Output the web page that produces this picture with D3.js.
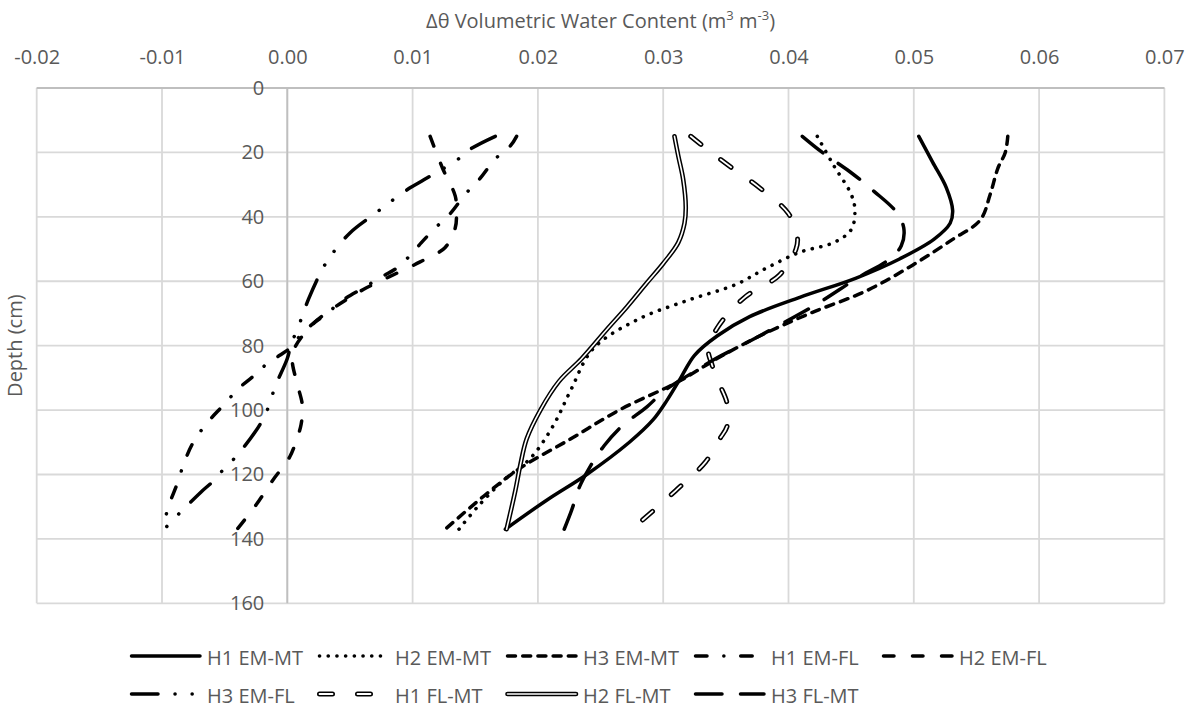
<!DOCTYPE html>
<html>
<head>
<meta charset="utf-8">
<script src="https://cdn.jsdelivr.net/npm/d3@7/dist/d3.min.js"></script>
<style>
  html, body { margin: 0; padding: 0; background: #fff; }
  svg { display: block; }
  text { font-family: "Open Sans", "Noto Sans", sans-serif; fill: #595959; }
</style>
</head>
<body>
<svg id="chart" width="1196" height="717"></svg>
<script>
// ---------------- data ----------------
const xTicks = [-0.02, -0.01, 0.00, 0.01, 0.02, 0.03, 0.04, 0.05, 0.06, 0.07];
const yTicks = [0, 20, 40, 60, 80, 100, 120, 140, 160];
const seriesNames = ["H1 EM-MT", "H2 EM-MT", "H3 EM-MT", "H1 EM-FL", "H2 EM-FL",
                     "H3 EM-FL", "H1 FL-MT", "H2 FL-MT", "H3 FL-MT"];

const depthH1EMMT = [15, 23, 31, 38, 42, 47, 53, 59, 65, 71, 77, 83, 90, 97, 103, 110, 120, 128, 137];
const vwcH1EMMT   = [0.0504, 0.0515, 0.0526, 0.0531, 0.0529, 0.0516, 0.0489, 0.0454, 0.0409, 0.0369, 0.0343, 0.0325, 0.0314, 0.0303, 0.0292, 0.0273, 0.0239, 0.0207, 0.0174];

const depthH2EMMT = [15, 24, 33, 38, 44, 48, 51, 56, 61, 66, 72, 81, 94, 105, 115, 122, 130, 137];
const vwcH2EMMT   = [0.0423, 0.0436, 0.0450, 0.0453, 0.0450, 0.0436, 0.0409, 0.0382, 0.0358, 0.0319, 0.0279, 0.0244, 0.0226, 0.0212, 0.0194, 0.0172, 0.0152, 0.0137];

const depthH3EMMT = [15, 20, 25, 33, 41, 47, 55, 63, 70, 77, 84, 91, 100, 109, 118, 126, 137];
const vwcH3EMMT   = [0.0575, 0.0573, 0.0567, 0.0561, 0.0553, 0.0531, 0.0499, 0.0462, 0.0417, 0.0377, 0.0343, 0.0313, 0.0265, 0.0226, 0.0186, 0.0159, 0.0126];

const depthH1EMFL = [15, 18, 22, 28, 33, 39, 43.5, 48, 52, 56, 58.5, 62, 66.5, 70, 73, 77, 80.5, 83, 85.5, 88.5, 93, 98.5, 104, 110, 116, 123, 128, 133, 137];
const vwcH1EMFL   = [0.0183, 0.0178, 0.0166, 0.0154, 0.0142, 0.0130, 0.0118, 0.0107, 0.0098, 0.0087, 0.0076, 0.0061, 0.0042, 0.0032, 0.0021, 0.0010, 0.0003, -0.0006, -0.0016, -0.0024, -0.0038, -0.0051, -0.0064, -0.0075, -0.0082, -0.0088, -0.0093, -0.0097, -0.0099];

const depthH2EMFL = [15, 25, 33.5, 38.5, 43.5, 49.5, 54, 58.5, 62.5, 67, 72, 77, 81.5, 85, 92, 98.5, 104.5, 108.5, 114.5, 122, 129.5, 137];
const vwcH2EMFL   = [0.0114, 0.0124, 0.0134, 0.0135, 0.0134, 0.0126, 0.0106, 0.0082, 0.0061, 0.0042, 0.0024, 0.0012, 0.0005, 0.0004, 0.0008, 0.0012, 0.0011, 0.0008, 0.0002, -0.0012, -0.0025, -0.0040];

const depthH3EMFL = [15, 19, 22.5, 28.5, 31, 36, 39, 45, 52.5, 57, 65.5, 75, 79.5, 84, 93, 98, 102.5, 107, 114.5, 118, 122, 125.5, 132, 136.5];
const vwcH3EMFL   = [0.0166, 0.0146, 0.0135, 0.0109, 0.0098, 0.0080, 0.0070, 0.0050, 0.0034, 0.0027, 0.0017, 0.0008, 0.0003, 0.0000, -0.0010, -0.0014, -0.0019, -0.0026, -0.0041, -0.0050, -0.0059, -0.0069, -0.0086, -0.0097];

const depthH1FLMT = [15, 19, 24, 31, 39, 46, 50, 58, 65, 74, 81, 86, 92, 98, 105, 109, 116, 125, 135];
const vwcH1FLMT   = [0.0322, 0.0335, 0.0352, 0.0377, 0.0400, 0.0407, 0.0406, 0.0393, 0.0365, 0.0344, 0.0336, 0.0339, 0.0345, 0.0351, 0.0351, 0.0345, 0.0334, 0.0310, 0.0281];

const depthH2FLMT = [15, 21, 28.5, 37, 42, 48, 54.5, 60.5, 68, 75, 84, 91, 100, 109, 117, 125, 137];
const vwcH2FLMT   = [0.0309, 0.0312, 0.0316, 0.0318, 0.0317, 0.0312, 0.0300, 0.0287, 0.0271, 0.0255, 0.0235, 0.0217, 0.0202, 0.0191, 0.0186, 0.0182, 0.0175];

const depthH3FLMT = [15, 20, 26, 32, 38.5, 43.5, 49, 53, 59, 67, 74, 79, 84, 89, 94, 99, 105, 111, 118, 124, 131, 137];
const vwcH3FLMT   = [0.0411, 0.0427, 0.0449, 0.0468, 0.0486, 0.0492, 0.0490, 0.0481, 0.0455, 0.0423, 0.0391, 0.0367, 0.0342, 0.0321, 0.0301, 0.0287, 0.0267, 0.0253, 0.0241, 0.0233, 0.0227, 0.0221];

// ---------------- styles (kept separate from data) ----------------
const styles = [
  { w: 3.5, dash: null },                              // H1 EM-MT solid
  { w: 3.6, dash: "0.1 8.6" },                         // H2 EM-MT round dot
  { w: 3.5, dash: "8 7.2" },                           // H3 EM-MT dash
  { w: 3.5, dash: "11.5 16.8 0.1 16.8" },              // H1 EM-FL dash-dot
  { w: 3.5, dash: "10.5 18.5" },                       // H2 EM-FL dash
  { w: 3.5, dash: "26.5 17 0.1 17 0.1 17" },           // H3 EM-FL long dash-dot-dot
  { w: 5.0, dash: "13 25", hollow: 1.8 },              // H1 FL-MT hollow dash
  { w: 4.6, dash: null, hollow: 1.6 },                 // H2 FL-MT double line
  { w: 3.5, dash: "26.5 18.5" }                        // H3 FL-MT long dash
];

const depthArrays = [depthH1EMMT, depthH2EMMT, depthH3EMMT, depthH1EMFL, depthH2EMFL, depthH3EMFL, depthH1FLMT, depthH2FLMT, depthH3FLMT];
const vwcArrays   = [vwcH1EMMT, vwcH2EMMT, vwcH3EMMT, vwcH1EMFL, vwcH2EMFL, vwcH3EMFL, vwcH1FLMT, vwcH2FLMT, vwcH3FLMT];

const series = seriesNames.map((name, i) => ({
  name,
  style: styles[i],
  points: depthArrays[i].map((d, j) => ({ d, v: vwcArrays[i][j] }))
}));

// ---------------- layout ----------------
const svg = d3.select("#chart");
const x = d3.scaleLinear().domain([-0.02, 0.07]).range([36.7, 1164.4]);
const y = d3.scaleLinear().domain([0, 160]).range([88, 603.3]);
const FS = 20;
const fmtX = d => d3.format(".2f")(d).replace("\u2212", "-");

// gridlines
const grid = svg.append("g");
grid.selectAll("line.v").data(xTicks).join("line")
  .attr("x1", d => x(d)).attr("x2", d => x(d))
  .attr("y1", y(0)).attr("y2", y(160))
  .attr("stroke", "#d9d9d9").attr("stroke-width", 1.8);
grid.selectAll("line.h").data(yTicks).join("line")
  .attr("x1", x(-0.02)).attr("x2", x(0.07))
  .attr("y1", d => y(d)).attr("y2", d => y(d))
  .attr("stroke", "#d9d9d9").attr("stroke-width", 1.8);

// axis lines
svg.append("line").attr("x1", x(-0.02)).attr("x2", x(0.07)).attr("y1", y(0)).attr("y2", y(0))
  .attr("stroke", "#bfbfbf").attr("stroke-width", 1.8);
svg.append("line").attr("x1", x(0)).attr("x2", x(0)).attr("y1", y(0)).attr("y2", y(160))
  .attr("stroke", "#bfbfbf").attr("stroke-width", 1.8);

// top axis labels
const xAxis = d3.axisTop(x).tickValues(xTicks).tickFormat(fmtX).tickSize(0).tickPadding(24);
const gx = svg.append("g").attr("transform", `translate(0,${y(0)})`).call(xAxis);
gx.select(".domain").remove();
gx.selectAll("text").attr("font-size", FS).attr("fill", "#595959")
  .style("font-family", '"Open Sans", sans-serif');

// left axis labels (at x = 0)
const yAxis = d3.axisLeft(y).tickValues(yTicks).tickFormat(d3.format("d")).tickSize(0).tickPadding(23);
const gy = svg.append("g").attr("transform", `translate(${x(0)},0)`).call(yAxis);
gy.select(".domain").remove();
gy.selectAll("text").attr("font-size", FS).attr("fill", "#595959")
  .style("font-family", '"Open Sans", sans-serif');

// titles
const title = svg.append("text").attr("x", (x(-0.02) + x(0.07)) / 2).attr("y", 28)
  .attr("text-anchor", "middle").attr("font-size", FS);
title.append("tspan").text("Δθ Volumetric Water Content (m");
title.append("tspan").attr("font-size", 13).attr("dy", -8).text("3");
title.append("tspan").attr("dy", 8).text(" m");
title.append("tspan").attr("font-size", 13).attr("dy", -8).text("-3");
title.append("tspan").attr("dy", 8).text(")");

svg.append("text").attr("transform", `translate(22,${(y(0) + y(160)) / 2}) rotate(-90)`)
  .attr("text-anchor", "middle").attr("font-size", FS).text("Depth (cm)");

// ---------------- series ----------------
const line = d3.line().x(p => x(p.v)).y(p => y(p.d)).curve(d3.curveCatmullRom.alpha(0.5));

function drawStroke(sel, st) {
  const outer = sel.append("path")
    .attr("fill", "none").attr("stroke", "#000").attr("stroke-width", st.w)
    .attr("stroke-linecap", "round").attr("stroke-linejoin", "round");
  if (st.dash) outer.attr("stroke-dasharray", st.dash);
  let inner = null;
  if (st.hollow) {
    inner = sel.append("path")
      .attr("fill", "none").attr("stroke", "#fff").attr("stroke-width", st.hollow)
      .attr("stroke-linecap", "round").attr("stroke-linejoin", "round");
    if (st.dash) inner.attr("stroke-dasharray", st.dash);
  }
  return [outer, inner];
}

const plot = svg.append("g");
series.forEach(s => {
  const g = plot.append("g");
  const [o, i] = drawStroke(g, s.style);
  o.attr("d", line(s.points));
  if (i) i.attr("d", line(s.points));
});

// ---------------- legend ----------------
const legendRowsY = [656, 694];
const legendX0 = 130, legendStep = 188, sampleLen = 70;
series.forEach((s, k) => {
  const row = k < 5 ? 0 : 1;
  const col = k < 5 ? k : k - 5;
  const lx = legendX0 + col * legendStep;
  const ly = legendRowsY[row];
  const g = svg.append("g");
  const [o, i] = drawStroke(g, s.style);
  const pts = [[lx + 1.5, ly], [lx + sampleLen, ly]];
  o.attr("d", d3.line()(pts));
  if (i) i.attr("d", d3.line()(pts));
  svg.append("text").attr("x", lx + 77).attr("y", ly + 9).attr("font-size", FS).text(s.name);
});
</script>
</body>
</html>
